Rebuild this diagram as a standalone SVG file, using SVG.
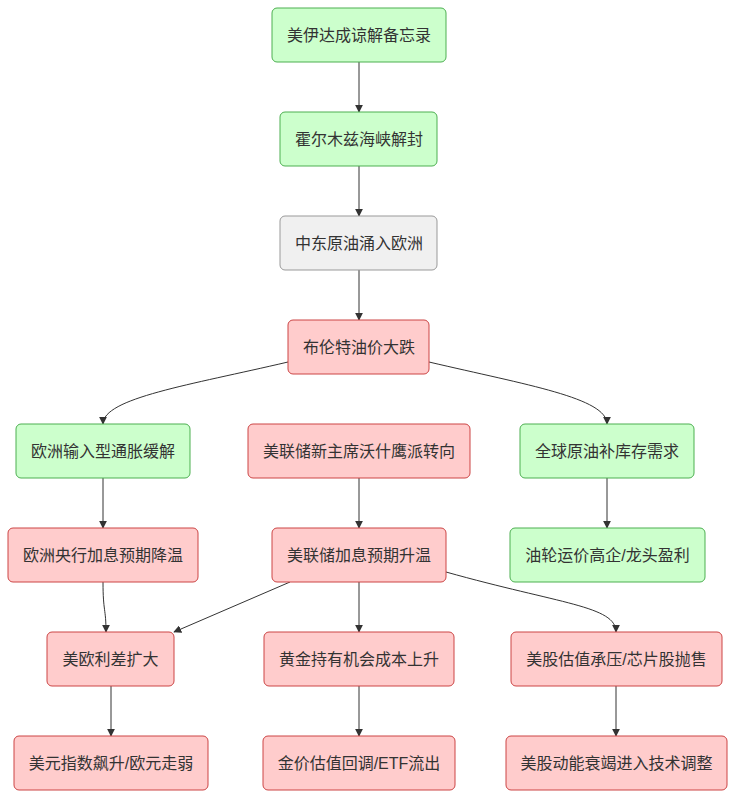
<svg xmlns="http://www.w3.org/2000/svg" width="735" height="798" viewBox="0 0 735 798">
<style>
text{font-family:"Liberation Sans","Noto Sans CJK SC",sans-serif;font-size:16px;fill:#333;text-anchor:middle;dominant-baseline:central}
.g rect{fill:#ccffcc;stroke:#4caf50;stroke-width:1}
.r rect{fill:#ffcccc;stroke:#cc4444;stroke-width:1}
.n rect{fill:#f0f0f0;stroke:#999;stroke-width:1}
#edges path{fill:none;stroke:#333;stroke-width:1;marker-end:url(#arr)}
</style>
<defs>
<marker id="arr" viewBox="0 0 10 10" refX="9" refY="5" markerWidth="8" markerHeight="8" orient="auto" markerUnits="userSpaceOnUse">
<path d="M0,0 L10,5 L0,10 z" fill="#333"/>
</marker>
</defs>
<rect width="735" height="798" fill="#fff"/>
<g id="edges">
<path d="M359,62 L359,112"/>
<path d="M359,166 L359,216"/>
<path d="M359,270 L359,320"/>
<path d="M288,362 C190,385 103,398 103,424"/>
<path d="M429,362 C527,385 607,398 607,424"/>
<path d="M359,478 L359,528"/>
<path d="M103,478 L103,528"/>
<path d="M607,478 L607,528"/>
<path d="M103,582 C103,612 106,608 106,632"/>
<path d="M290,582 L174,632"/>
<path d="M359,582 L359,632"/>
<path d="M446,572 C560,604 616,606 616,632"/>
<path d="M111,686 L111,736"/>
<path d="M359,686 L359,736"/>
<path d="M616,686 L616,736"/>
</g>
<g id="n1" class="g"><rect x="272" y="8" width="174" height="54" rx="5"/><text x="359" y="35">美伊达成谅解备忘录</text></g>
<g id="n2" class="g"><rect x="280" y="112" width="157" height="54" rx="5"/><text x="359" y="139">霍尔木兹海峡解封</text></g>
<g id="n3" class="n"><rect x="280" y="216" width="157" height="54" rx="5"/><text x="359" y="243">中东原油涌入欧洲</text></g>
<g id="n4" class="r"><rect x="288" y="320" width="141" height="54" rx="5"/><text x="359" y="347">布伦特油价大跌</text></g>
<g id="n5" class="g"><rect x="16" y="424" width="174" height="54" rx="5"/><text x="103" y="451">欧洲输入型通胀缓解</text></g>
<g id="n6" class="r"><rect x="248" y="424" width="222" height="54" rx="5"/><text x="359" y="451">美联储新主席沃什鹰派转向</text></g>
<g id="n7" class="g"><rect x="520" y="424" width="174" height="54" rx="5"/><text x="607" y="451">全球原油补库存需求</text></g>
<g id="n8" class="r"><rect x="8" y="528" width="190" height="54" rx="5"/><text x="103" y="555">欧洲央行加息预期降温</text></g>
<g id="n9" class="r"><rect x="272" y="528" width="174" height="54" rx="5"/><text x="359" y="555">美联储加息预期升温</text></g>
<g id="n10" class="g"><rect x="510" y="528" width="195" height="54" rx="5"/><text x="607.5" y="555">油轮运价高企/龙头盈利</text></g>
<g id="n11" class="r"><rect x="47" y="632" width="127" height="54" rx="5"/><text x="110.5" y="659">美欧利差扩大</text></g>
<g id="n12" class="r"><rect x="264" y="632" width="190" height="54" rx="5"/><text x="359" y="659">黄金持有机会成本上升</text></g>
<g id="n13" class="r"><rect x="511" y="632" width="211" height="54" rx="5"/><text x="616.5" y="659">美股估值承压/芯片股抛售</text></g>
<g id="n14" class="r"><rect x="14" y="736" width="194" height="54" rx="5"/><text x="111" y="763">美元指数飙升/欧元走弱</text></g>
<g id="n15" class="r"><rect x="263" y="736" width="192" height="54" rx="5"/><text x="359" y="763">金价估值回调/ETF流出</text></g>
<g id="n16" class="r"><rect x="506" y="736" width="221" height="54" rx="5"/><text x="616.5" y="763">美股动能衰竭进入技术调整</text></g>
</svg>
